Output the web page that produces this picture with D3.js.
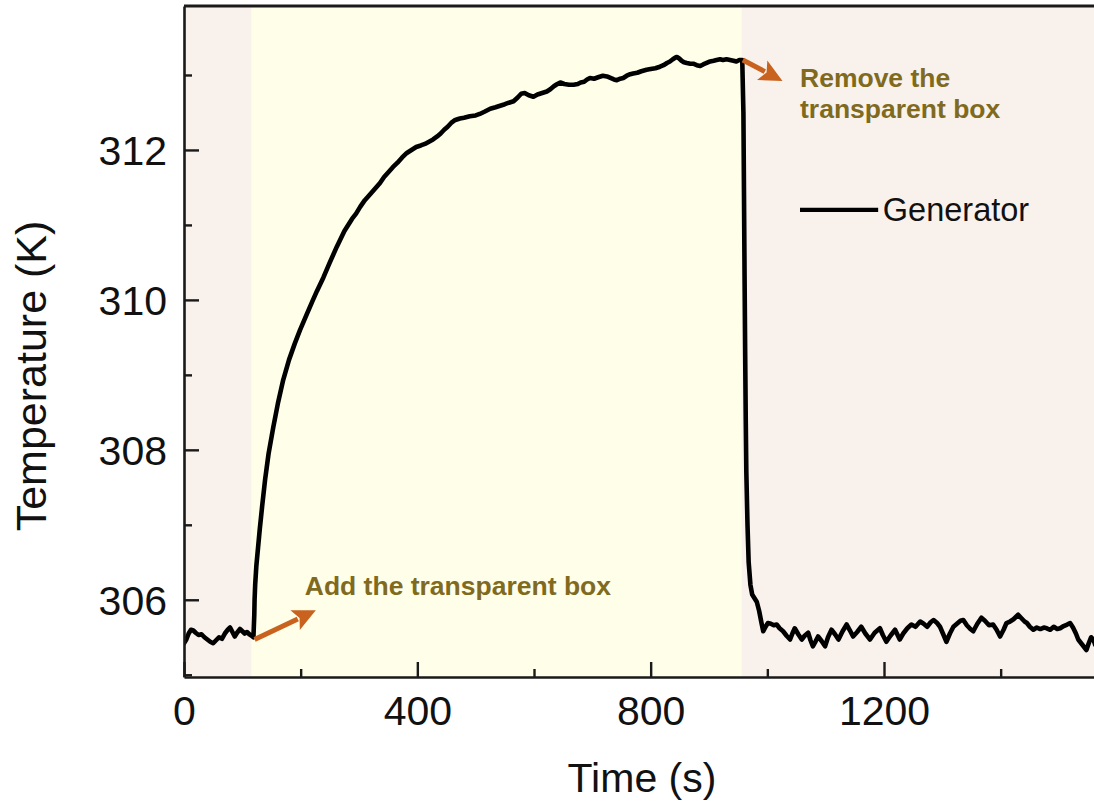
<!DOCTYPE html>
<html>
<head>
<meta charset="utf-8">
<script src="https://cdn.jsdelivr.net/npm/d3@7"></script>
<style>
  html, body { margin: 0; padding: 0; background: #ffffff; }
  svg { display: block; }
  text { font-family: "Liberation Sans", Arial, sans-serif; }
</style>
</head>
<body>
<svg id="chart" width="1094" height="805"></svg>
<script>
// ---------------- DATA ----------------
const timeS = [
  0,4,8,12,16,20,25,30,35,40,45,50,55,60,65,70,75,79,83,87,91,96,100,104,108,112,116,119,
  120.5,121,122,124,127,130,134,139,145,153,161,170,180,190,199,210,220,228,239,250,262,275,288,295,
  302,310,318,327,336,343,350,358,366,374,382,390,398,406,413,420,427,434,440,446,452,458,465,473,
  480,490,500,507,515,525,534,542,550,557,565,572,578,584,591,599,606,614,622,628,634,640,645,652,
  660,668,675,680,686,691,696,703,710,718,725,731,737,742,748,753,759,765,770,777,784,793,800,808,
  816,822,828,833,838,842,845,849,853,857,862,868,873,879,885,890,896,902,908,913,919,924,930,936,
  942,947,952,957,
  959,960,961,962,963,964,966,968,971,974,978,982,986,990,993,997,1001,1006,1011,1016,1021,1027,
  1033,1039,1043,1047,1053,1059,1064,1070,1074,1078,1083,1087,1093,1099,1104,1110,1116,1122,1129,
  1136,1141,1147,1154,1161,1168,1176,1184,1193,1198,1204,1211,1219,1227,1233,1240,1247,1254,1262,
  1268,1274,1280,1285,1291,1296,1301,1307,1313,1319,1325,1331,1336,1342,1348,1353,1360,1367,1373,
  1380,1387,1393,1399,1405,1410,1416,1422,1430,1436,1441,1445,1450,1456,1462,1468,1474,1479,1485,
  1491,1497,1502,1508,1514,1519,1524,1529,1533,1538,1542,1547,1551,1555,1559,1562
];
const tempK = [
  305.42,305.47,305.55,305.60,305.59,305.56,305.53,305.54,305.50,305.47,305.44,305.42,305.46,305.50,
  305.48,305.55,305.60,305.63,305.57,305.51,305.56,305.61,305.58,305.55,305.57,305.54,305.52,305.50,
  305.80,306.00,306.20,306.45,306.70,306.95,307.25,307.60,307.95,308.30,308.62,308.93,309.20,309.42,
  309.60,309.80,309.98,310.12,310.30,310.50,310.71,310.92,311.08,311.15,
  311.24,311.33,311.40,311.48,311.56,311.64,311.70,311.77,311.83,311.90,311.96,312.00,312.04,312.06,
  312.08,312.11,312.14,312.18,312.22,312.27,312.31,312.36,312.40,312.42,
  312.43,312.45,312.46,312.48,312.51,312.55,312.57,312.59,312.61,312.63,312.65,312.70,312.75,312.76,
  312.73,312.71,312.74,312.76,312.78,312.81,312.85,312.88,312.90,312.88,
  312.87,312.87,312.88,312.90,312.91,312.94,312.96,312.95,312.97,312.99,312.98,312.96,312.94,312.93,
  312.95,312.96,312.99,313.01,313.02,313.03,313.05,313.07,313.08,313.09,
  313.11,313.13,313.16,313.18,313.21,313.23,313.24,313.22,313.19,313.17,313.16,313.15,313.15,313.13,
  313.12,313.14,313.16,313.18,313.19,313.20,313.21,313.20,313.21,313.20,
  313.19,313.18,313.20,313.20,
  312.50,311.40,310.30,309.30,308.40,307.70,307.00,306.50,306.20,306.07,306.02,305.97,305.85,305.69,
  305.58,305.64,305.69,305.68,305.66,305.67,305.62,305.58,
  305.52,305.47,305.55,305.62,305.54,305.47,305.52,305.56,305.46,305.38,305.45,305.51,305.45,305.38,
  305.50,305.60,305.54,305.47,305.58,
  305.67,305.60,305.51,305.57,305.64,305.55,305.47,305.56,305.62,305.53,305.44,305.52,305.60,305.47,
  305.55,305.62,305.67,305.64,305.71,
  305.68,305.64,305.70,305.73,305.69,305.64,305.55,305.44,305.55,305.64,305.68,305.72,305.73,305.66,
  305.61,305.58,305.68,305.76,305.72,
  305.66,305.67,305.60,305.51,305.60,305.69,305.71,305.74,305.80,305.75,305.71,305.69,305.64,305.60,
  305.63,305.61,305.63,305.62,305.60,
  305.64,305.61,305.62,305.65,305.67,305.69,305.63,305.55,305.47,305.42,305.38,305.33,305.42,305.50,
  305.47,305.40
];

const xDomain = [0, 1560];
const yDomain = [304.97, 313.92];
const xMajorTicks = [0, 400, 800, 1200];
const xMinorTicks = [200, 600, 1000, 1400];
const yMajorTicks = [306, 308, 310, 312];
const yMinorTicks = [305, 307, 309, 311, 313];

// shaded phases: [start, end, kind]
const phaseStart = [0, 116, 956];
const phaseEnd   = [116, 956, 1560];
const phaseKind  = ["open", "box", "open"];

const seriesName = "Generator";
const xTitle = "Time (s)";
const yTitle = "Temperature (K)";

// annotations in data units
const noteTexts = [["Add the transparent box"], ["Remove the", "transparent box"]];
const noteAt = [[207, 306.07], [1056, 312.84]];
const arrowFrom = [[121, 305.47], [958, 313.2]];
const arrowTo = [[226, 305.86], [1026, 312.92]];
const legendAt = [1056, 311.2];

// ---------------- DRAW ----------------
const svg = d3.select("#chart");
const L = 184, R = 1094, T = 6, B = 677;

const x = d3.scaleLinear().domain(xDomain).range([L, R]);
const y = d3.scaleLinear().domain(yDomain).range([B, T]);

const phaseColor = { open: "#f9f2ec", box: "#fefee9" };

svg.append("defs").append("clipPath").attr("id", "plotClip")
  .append("rect").attr("x", L).attr("y", T).attr("width", R - L).attr("height", B - T);

const plot = svg.append("g").attr("clip-path", "url(#plotClip)");

plot.selectAll("rect.phase")
  .data(phaseStart.map((s, i) => ({ s, e: phaseEnd[i], k: phaseKind[i] })))
  .join("rect")
  .attr("class", "phase")
  .attr("x", d => x(d.s))
  .attr("y", T)
  .attr("width", d => x(d.e) - x(d.s))
  .attr("height", B - T)
  .attr("fill", d => phaseColor[d.k]);

const pts = timeS.map((t, i) => [t, tempK[i]]);
const line = d3.line().x(d => x(d[0])).y(d => y(d[1]));
plot.append("path")
  .datum(pts)
  .attr("d", line)
  .attr("fill", "none")
  .attr("stroke", "#000")
  .attr("stroke-width", 4.6)
  .attr("stroke-linejoin", "round")
  .attr("stroke-linecap", "round");

// axes
const axisColor = "#1a1a1a";
const fontSize = 41;

const xAxis = svg.append("g").attr("transform", `translate(0,${B})`)
  .call(d3.axisBottom(x).tickValues(xMajorTicks).tickSizeInner(-15).tickSizeOuter(0).tickPadding(0).tickFormat(d3.format("d")));
const xMinor = svg.append("g").attr("transform", `translate(0,${B})`)
  .call(d3.axisBottom(x).tickValues(xMinorTicks).tickSizeInner(-8).tickSizeOuter(0).tickFormat(""));
const yAxis = svg.append("g").attr("transform", `translate(${L},0)`)
  .call(d3.axisLeft(y).tickValues(yMajorTicks).tickSizeInner(-15).tickSizeOuter(0).tickPadding(0).tickFormat(d3.format("d")));
const yMinor = svg.append("g").attr("transform", `translate(${L},0)`)
  .call(d3.axisLeft(y).tickValues(yMinorTicks).tickSizeInner(-8).tickSizeOuter(0).tickFormat(""));

[xAxis, xMinor, yAxis, yMinor].forEach(g => {
  g.select(".domain").attr("stroke", axisColor).attr("stroke-width", 2.6);
  g.selectAll(".tick line").attr("stroke", axisColor).attr("stroke-width", 2.4);
});
xMinor.select(".domain").remove();
yMinor.select(".domain").remove();

xAxis.selectAll(".tick text")
  .attr("y", 48).attr("dy", 0)
  .attr("font-size", fontSize).attr("fill", "#111")
  .attr("font-family", "Liberation Sans, Arial, sans-serif");
yAxis.selectAll(".tick text")
  .attr("x", -17).attr("dy", 14.5)
  .attr("font-size", fontSize).attr("fill", "#111")
  .attr("font-family", "Liberation Sans, Arial, sans-serif");

// top spine
svg.append("line")
  .attr("x1", L).attr("x2", R).attr("y1", T).attr("y2", T)
  .attr("stroke", axisColor).attr("stroke-width", 2.8);

// axis titles
svg.append("text")
  .attr("x", 642).attr("y", 792)
  .attr("text-anchor", "middle")
  .attr("font-size", fontSize).attr("fill", "#111")
  .text(xTitle);
svg.append("text")
  .attr("transform", "translate(46,376) rotate(-90)")
  .attr("text-anchor", "middle")
  .attr("font-size", 43).attr("fill", "#111")
  .text(yTitle);

// legend
svg.append("line")
  .attr("x1", x(legendAt[0])).attr("x2", x(legendAt[0] + 134))
  .attr("y1", y(legendAt[1])).attr("y2", y(legendAt[1]))
  .attr("stroke", "#000").attr("stroke-width", 4.2);
svg.append("text")
  .attr("x", x(legendAt[0] + 142)).attr("y", y(legendAt[1]) + 11.5)
  .attr("font-size", 32.5).attr("fill", "#111")
  .text(seriesName);

// arrows
const arrowColor = "#c8621e";
arrowFrom.forEach((f, i) => {
  const x1 = x(f[0]), y1 = y(f[1]);
  const x2 = x(arrowTo[i][0]), y2 = y(arrowTo[i][1]);
  const ang = Math.atan2(y2 - y1, x2 - x1);
  const hl = 23, hw = 11;
  const bx = x2 - hl * Math.cos(ang), by = y2 - hl * Math.sin(ang);
  svg.append("line")
    .attr("x1", x1).attr("y1", y1).attr("x2", bx + 3 * Math.cos(ang)).attr("y2", by + 3 * Math.sin(ang))
    .attr("stroke", arrowColor).attr("stroke-width", 5);
  const px = -Math.sin(ang), py = Math.cos(ang);
  svg.append("polygon")
    .attr("points", [[x2, y2], [bx + px * hw, by + py * hw], [bx + 5 * Math.cos(ang), by + 5 * Math.sin(ang)], [bx - px * hw, by - py * hw]].map(p => p.join(",")).join(" "))
    .attr("fill", arrowColor);
});

// notes
const noteColor = "#806a1e";
noteTexts.forEach((lines, i) => {
  const t = svg.append("text")
    .attr("x", x(noteAt[i][0])).attr("y", y(noteAt[i][1]))
    .attr("font-size", 26.5).attr("font-weight", "bold").attr("fill", noteColor);
  lines.forEach((s, j) => {
    t.append("tspan").attr("x", x(noteAt[i][0])).attr("dy", j === 0 ? 0 : 31).text(s);
  });
});
</script>
</body>
</html>
